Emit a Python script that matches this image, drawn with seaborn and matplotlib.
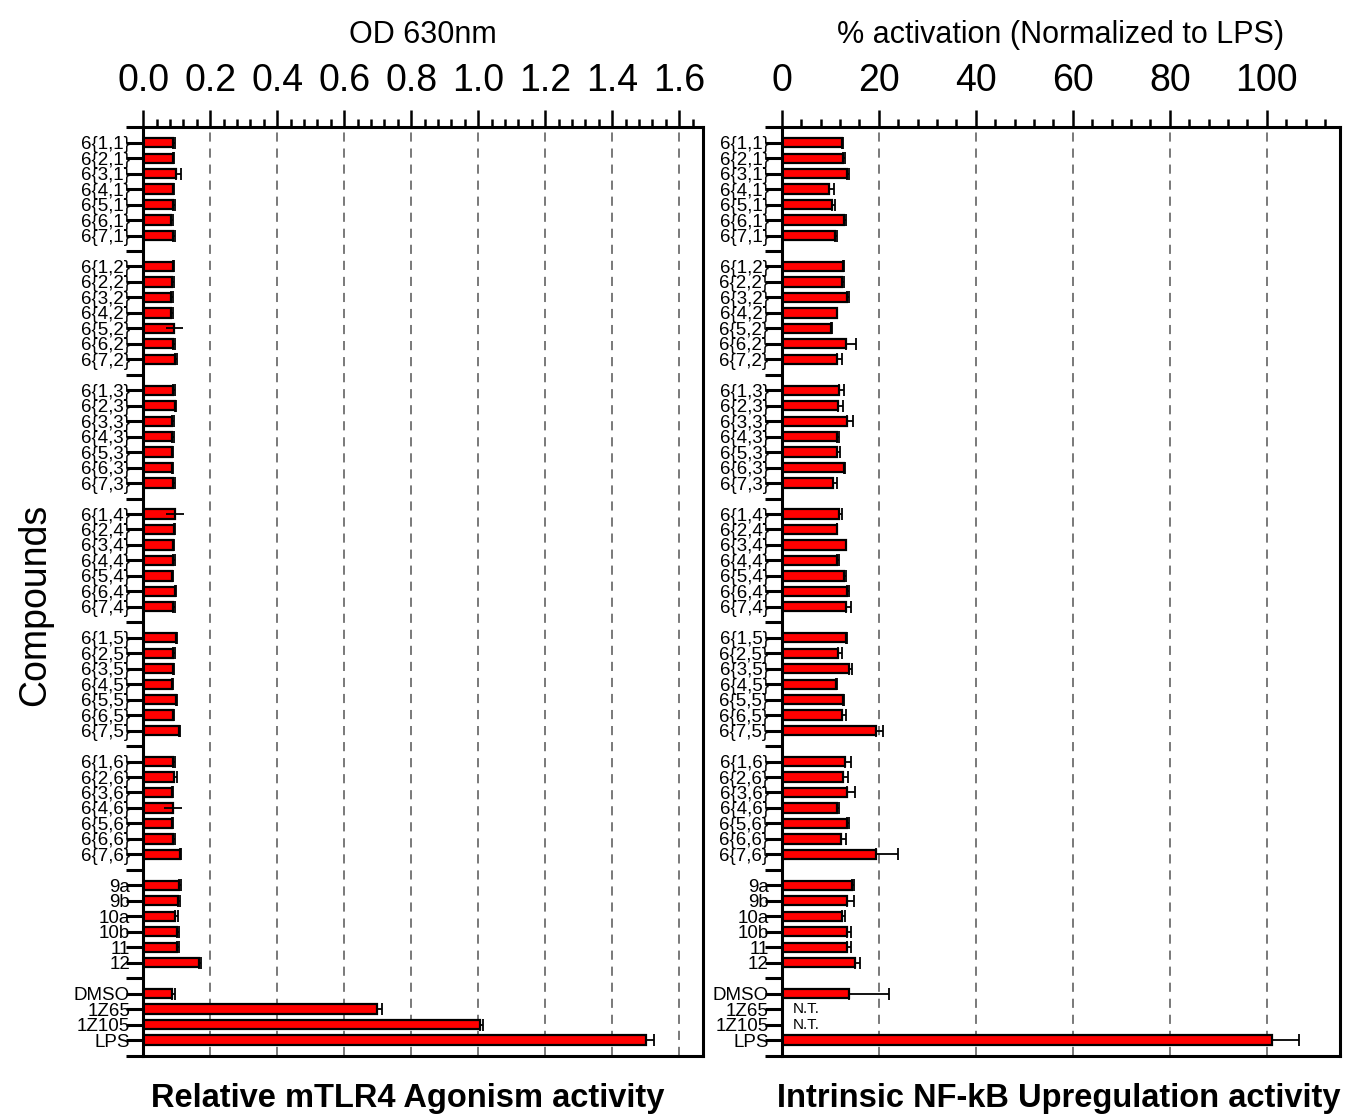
import numpy as np
import pandas as pd
import matplotlib
matplotlib.use("Agg")
import matplotlib.pyplot as plt
import seaborn as sns
from matplotlib.ticker import MultipleLocator

# ---------------- data ----------------
group_1 = ["6{1,1}", "6{2,1}", "6{3,1}", "6{4,1}", "6{5,1}", "6{6,1}", "6{7,1}"]
group_2 = ["6{1,2}", "6{2,2}", "6{3,2}", "6{4,2}", "6{5,2}", "6{6,2}", "6{7,2}"]
group_3 = ["6{1,3}", "6{2,3}", "6{3,3}", "6{4,3}", "6{5,3}", "6{6,3}", "6{7,3}"]
group_4 = ["6{1,4}", "6{2,4}", "6{3,4}", "6{4,4}", "6{5,4}", "6{6,4}", "6{7,4}"]
group_5 = ["6{1,5}", "6{2,5}", "6{3,5}", "6{4,5}", "6{5,5}", "6{6,5}", "6{7,5}"]
group_6 = ["6{1,6}", "6{2,6}", "6{3,6}", "6{4,6}", "6{5,6}", "6{6,6}", "6{7,6}"]
group_7 = ["9a", "9b", "10a", "10b", "11", "12"]
group_8 = ["DMSO", "1Z65", "1Z105", "LPS"]
groups = [group_1, group_2, group_3, group_4, group_5, group_6, group_7, group_8]

# Relative mTLR4 agonism (OD 630nm)
od_mean = [0.090, 0.090, 0.097, 0.088, 0.090, 0.084, 0.089,
           0.089, 0.087, 0.084, 0.084, 0.093, 0.090, 0.095,
           0.090, 0.096, 0.086, 0.086, 0.086, 0.086, 0.090,
           0.096, 0.093, 0.089, 0.089, 0.086, 0.096, 0.090,
           0.099, 0.089, 0.088, 0.085, 0.099, 0.089, 0.107,
           0.090, 0.093, 0.085, 0.090, 0.085, 0.090, 0.109,
           0.108, 0.105, 0.096, 0.102, 0.102, 0.166,
           0.086, 0.697, 1.006, 1.500]
od_err_up = [0.005, 0.003, 0.016, 0.004, 0.004, 0.004, 0.005,
             0.004, 0.004, 0.004, 0.004, 0.000, 0.005, 0.005,
             0.005, 0.003, 0.005, 0.005, 0.003, 0.003, 0.004,
             0.000, 0.003, 0.004, 0.005, 0.003, 0.003, 0.004,
             0.003, 0.005, 0.005, 0.003, 0.003, 0.004, 0.004,
             0.005, 0.007, 0.003, 0.000, 0.005, 0.005, 0.005,
             0.005, 0.004, 0.009, 0.005, 0.004, 0.007,
             0.009, 0.017, 0.008, 0.024]
# symmetric whiskers drawn without caps (visible through the bar)
od_err_sym = [0, 0, 0, 0, 0, 0, 0,
              0, 0, 0, 0, 0.025, 0, 0,
              0, 0, 0, 0, 0, 0, 0,
              0.027, 0, 0, 0, 0, 0, 0,
              0, 0, 0, 0, 0, 0, 0,
              0, 0, 0, 0.027, 0, 0, 0,
              0, 0, 0, 0, 0, 0,
              0, 0, 0, 0]

# Intrinsic NF-kB upregulation (% activation normalized to LPS); NaN = N.T.
nf_mean = [12.4, 12.6, 13.4, 9.8, 10.3, 12.9, 11.0,
           12.6, 12.5, 13.4, 11.3, 10.1, 13.3, 11.3,
           11.9, 11.7, 13.5, 11.3, 11.3, 12.8, 10.6,
           11.8, 11.3, 13.2, 11.3, 12.8, 13.4, 13.2,
           13.2, 11.7, 13.8, 11.2, 12.6, 12.4, 19.4,
           13.1, 12.7, 13.5, 11.5, 13.4, 12.2, 19.4,
           14.5, 13.4, 12.4, 13.4, 13.4, 15.1,
           13.9, np.nan, np.nan, 101.1]
nf_err_up = [0.3, 0.5, 0.5, 1.0, 0.7, 0.3, 0.3,
             0.2, 0.4, 0.5, 0.2, 0.3, 2.0, 1.1,
             0.9, 0.9, 1.1, 0.5, 0.8, 0.3, 0.7,
             0.6, 0.1, 0.1, 0.6, 0.4, 0.5, 1.0,
             0.2, 0.8, 0.7, 0.3, 0.2, 0.8, 1.5,
             1.1, 1.0, 1.6, 0.4, 0.4, 1.0, 4.6,
             0.4, 1.4, 0.7, 0.8, 0.8, 1.0,
             8.2, np.nan, np.nan, 5.6]
not_tested = ["1Z65", "1Z105"]

od_ticks = [0.0, 0.2, 0.4, 0.6, 0.8, 1.0, 1.2, 1.4, 1.6]
nf_ticks = [0, 20, 40, 60, 80, 100]

# ---------------- build table ----------------
labels = [c for g in groups for c in g]
df = pd.DataFrame({"compound": labels, "od": od_mean, "od_up": od_err_up,
                   "od_sym": od_err_sym, "nf": nf_mean, "nf_up": nf_err_up})

order = []
for k, g in enumerate(groups):
    if k:
        order.append(f"_gap{k}")
    order.extend(g)
pos = {name: i for i, name in enumerate(order)}
df["slot"] = df["compound"].map(pos)

# ---------------- style ----------------
sns.set_theme(style="white")
plt.rcParams["font.family"] = ["Liberation Sans", "DejaVu Sans"]
for key in ["text.color", "axes.labelcolor", "xtick.color", "ytick.color", "axes.edgecolor"]:
    plt.rcParams[key] = "black"
plt.rcParams["axes.linewidth"] = 2.2

fig = plt.figure(figsize=(13.45, 11.18), dpi=100)
ax1 = fig.add_axes([0.1065, 0.0559, 0.4161, 0.8303])
ax2 = fig.add_axes([0.5812, 0.0559, 0.4151, 0.8303])

tick_slots = list(range(-1, len(order) + 1))
tick_labels = [""] + [("" if n.startswith("_gap") else n) for n in order] + [""]


def style_axis(ax, xmax, major, minor, ticks, xlabel):
    ax.set_axisbelow(True)
    ax.set_xlim(0, xmax)
    ax.set_ylim(len(order), -1)
    ax.xaxis.tick_top()
    ax.xaxis.set_label_position("top")
    ax.xaxis.set_major_locator(MultipleLocator(major))
    ax.xaxis.set_minor_locator(MultipleLocator(minor))
    ax.set_xticks(ticks)
    ax.set_xticklabels([f"{t:.1f}" if isinstance(t, float) else str(t) for t in ticks])
    ax.tick_params(axis="x", which="major", direction="out", length=12.5, width=1.8,
                   pad=8, labelsize=27, top=True, bottom=False, color="black")
    ax.tick_params(axis="x", which="minor", direction="out", length=5.5, width=1.8,
                   top=True, bottom=False, color="black")
    ax.set_yticks(tick_slots)
    ax.set_yticklabels(tick_labels)
    ax.tick_params(axis="y", which="major", direction="out", length=12, width=2.2,
                   pad=-2.5, labelsize=13.5, left=True, color="black")
    ax.set_ylabel("")
    ax.set_xlabel(xlabel, fontsize=22, labelpad=14)
    ax.grid(False)
    for t in ticks[1:]:
        ax.axvline(t, color="#555555", linewidth=1.1, linestyle=(0, (6, 4.5)), zorder=0)
    for s in ax.spines.values():
        s.set_visible(True)
        s.set_linewidth(2.2)
        s.set_color("black")


# left panel
sns.barplot(data=df, y="compound", x="od", order=order, orient="h", color="#ff0000",
            saturation=1, edgecolor="black", linewidth=1.6, width=0.6,
            errorbar=None, ax=ax1, zorder=2)
up = df["od_up"] > 0
ax1.errorbar(df.loc[up, "od"], df.loc[up, "slot"],
             xerr=[np.zeros(up.sum()), df.loc[up, "od_up"]], fmt="none",
             ecolor="black", elinewidth=1.3, capsize=4.5, capthick=1.3, zorder=3)
sym = df["od_sym"] > 0
ax1.errorbar(df.loc[sym, "od"], df.loc[sym, "slot"], xerr=df.loc[sym, "od_sym"], fmt="none",
             ecolor="black", elinewidth=1.3, capsize=0, zorder=3)
style_axis(ax1, 1.671, 0.2, 0.04, od_ticks, "OD 630nm")

# right panel
sns.barplot(data=df, y="compound", x="nf", order=order, orient="h", color="#ff0000",
            saturation=1, edgecolor="black", linewidth=1.6, width=0.6,
            errorbar=None, ax=ax2, zorder=2)
ok = df["nf"].notna()
ax2.errorbar(df.loc[ok, "nf"], df.loc[ok, "slot"],
             xerr=[np.zeros(ok.sum()), df.loc[ok, "nf_up"]], fmt="none",
             ecolor="black", elinewidth=1.3, capsize=4.5, capthick=1.3, zorder=3)
for name in not_tested:
    ax2.text(2.3, pos[name], "N.T.", va="center", ha="left", fontsize=11)
style_axis(ax2, 115.1, 20, 4, nf_ticks, "% activation (Normalized to LPS)")

fig.text(0.026, 0.459, "Compounds", rotation=90, ha="center", va="center", fontsize=27)
fig.text(0.303, 0.017, "Relative mTLR4 Agonism activity", ha="center", va="center",
         fontsize=23.5, fontweight="bold")
fig.text(0.787, 0.017, "Intrinsic NF-kB Upregulation activity", ha="center", va="center",
         fontsize=23.5, fontweight="bold")

fig.savefig("out.png", dpi=100)
